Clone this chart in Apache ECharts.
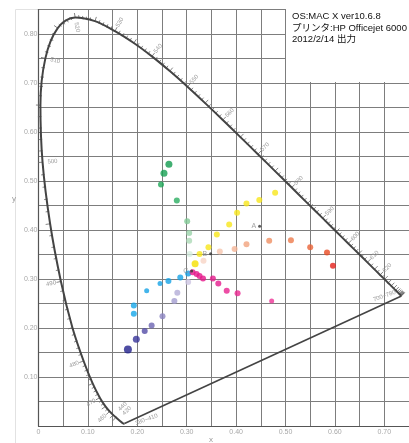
<!DOCTYPE html>
<html><head><meta charset="utf-8">
<script src="https://cdn.jsdelivr.net/npm/echarts@6/dist/echarts.min.js"></script>
<style>html,body{margin:0;padding:0;background:#fff}#c{width:409px;height:443px}</style>
</head><body><div id="c"></div>
<script>
// CIE 1931 spectral locus (5 nm steps)
const locusWl = [380,385,390,395,400,405,410,415,420,425,430,435,440,445,450,455,460,465,470,475,480,485,490,495,500,505,510,515,520,525,530,535,540,545,550,555,560,565,570,575,580,585,590,595,600,605,610,615,620,625,630,635,640,645,650,655,660,665,670,675,680,685,690,695,700];
const locusX = [0.1741,0.1740,0.1738,0.1736,0.1733,0.1730,0.1726,0.1721,0.1714,0.1703,0.1689,0.1669,0.1644,0.1611,0.1566,0.1510,0.1440,0.1355,0.1241,0.1096,0.0913,0.0687,0.0454,0.0235,0.0082,0.0039,0.0139,0.0389,0.0743,0.1142,0.1547,0.1929,0.2296,0.2658,0.3016,0.3373,0.3731,0.4087,0.4441,0.4788,0.5125,0.5448,0.5752,0.6029,0.6270,0.6482,0.6658,0.6801,0.6915,0.7006,0.7079,0.7140,0.7190,0.7230,0.7260,0.7283,0.7300,0.7311,0.7320,0.7327,0.7334,0.7340,0.7344,0.7346,0.7347];
const locusY = [0.0050,0.0050,0.0049,0.0049,0.0048,0.0048,0.0048,0.0048,0.0051,0.0058,0.0069,0.0086,0.0109,0.0138,0.0177,0.0227,0.0297,0.0399,0.0578,0.0868,0.1327,0.2007,0.2950,0.4127,0.5384,0.6548,0.7502,0.8120,0.8338,0.8262,0.8059,0.7816,0.7543,0.7243,0.6923,0.6589,0.6245,0.5896,0.5547,0.5202,0.4866,0.4544,0.4242,0.3965,0.3725,0.3514,0.3340,0.3197,0.3083,0.2993,0.2920,0.2859,0.2809,0.2770,0.2740,0.2717,0.2700,0.2689,0.2680,0.2673,0.2666,0.2660,0.2656,0.2654,0.2653];

// wavelength labels
const labelWl = [460,470,480,490,500,510,520,530,540,550,560,570,580,590,600,610,620];
const labelInside = [500,510,520];

// printed colour patches (x, y)
const greenX = [0.264,0.254,0.248,0.280,0.301,0.305,0.305,0.306];
const greenY = [0.534,0.516,0.493,0.460,0.418,0.394,0.378,0.351];
const yellowX = [0.479,0.447,0.421,0.402,0.386,0.361,0.344,0.326,0.317];
const yellowY = [0.476,0.461,0.454,0.435,0.411,0.391,0.365,0.351,0.331];
const orangeX = [0.334,0.367,0.397,0.421,0.467,0.511,0.550,0.584,0.596];
const orangeY = [0.337,0.356,0.361,0.371,0.378,0.379,0.365,0.354,0.327];
const magentaX = [0.312,0.320,0.326,0.333,0.353,0.364,0.381,0.403,0.472];
const magentaY = [0.314,0.310,0.306,0.301,0.301,0.291,0.276,0.271,0.255];
const cyanX = [0.303,0.287,0.263,0.246,0.219,0.193,0.193];
const cyanY = [0.311,0.303,0.296,0.291,0.276,0.246,0.229];
const purpleX = [0.303,0.281,0.275,0.251,0.229,0.215,0.198,0.181];
const purpleY = [0.294,0.272,0.255,0.224,0.205,0.194,0.177,0.156];

// standard illuminants
const illumNames = ['A','B','C'];
const illumX = [0.4476,0.3484,0.3101];
const illumY = [0.4074,0.3516,0.3162];

const infoLines = ['OS:MAC X ver10.6.8','プリンタ:HP Officejet 6000','2012/2/14 出力'];

// styles
const greenColors = ['#119b4f','#16a052','#1ea757','#2cae61','#82c996','#9ad3aa','#acdab6','#d6ede0'];
const greenSizes = [7,7,6,6,6,6,6,6];
const yellowColors = ['#f8e61a','#f8e61a','#f8e61a','#f8e61a','#f8e61a','#f8e61a','#f8e61a','#f8e61a','#f5e000'];
const yellowSizes = [6,6,6,6,6,6,6,6,7];
const orangeColors = ['#f8d5c6','#f6c5ae','#f4b496','#f1a27d','#ef8f62','#ed7a4b','#ea6337','#e84a22','#e4211a'];
const orangeSizes = [6,6,6,6,6,6,6,6,6];
const magentaColors = ['#e5168a','#e5168a','#e5168a','#e5168a','#e51a8c','#e51a8c','#e8208e','#ea2690','#ee3396'];
const magentaSizes = [6,6,6,6,6,6,6,6,5];
const cyanColors = ['#129de4','#15a2e6','#15a2e6','#15a2e6','#15a2e6','#15a6e8','#15a6e8'];
const cyanSizes = [6,6,6,5,5,6,6];
const purpleColors = ['#cdc6e2','#b3acd7','#a39ccf','#8b83c1','#6c64b2','#524ba6','#38359a','#22218c'];
const purpleSizes = [6,6,6,6,6,6,7,8];

function pts(xs, ys, colors, sizes) {
  return xs.map((x, i) => ({ value: [x, ys[i]], itemStyle: { color: colors[i] }, symbolSize: sizes[i] }));
}

const chart = echarts.init(document.getElementById('c'), null, { renderer: 'canvas' });
const n = locusWl.length;
const locusData = locusWl.map((w, i) => [locusX[i], locusY[i], i]);

function fmt(v, showZero) {
  const k = Math.round(v * 100);
  if (k === 0) return showZero ? '0' : '';
  if (k % 10) return '';
  return v.toFixed(2);
}

function normalAt(api, i) {
  const a = api.coord([locusX[Math.max(0, i - 1)], locusY[Math.max(0, i - 1)]]);
  const b = api.coord([locusX[Math.min(n - 1, i + 1)], locusY[Math.min(n - 1, i + 1)]]);
  let dx = b[0] - a[0], dy = b[1] - a[1];
  const L = Math.hypot(dx, dy) || 1;
  dx /= L; dy /= L;
  return [dy, -dx]; // outward
}

const axisLabelStyle = { color: '#a8a8a8', fontSize: 7, fontFamily: 'Liberation Sans, Arial, sans-serif' };

chart.setOption({
  animation: false,
  backgroundColor: '#fff',
  grid: { left: 38.5, right: 0, top: 9.5, bottom: 17, containLabel: false },
  xAxis: {
    type: 'value', min: 0, max: 0.75, interval: 0.05,
    axisLine: { show: true, lineStyle: { color: '#555', width: 1.2 } },
    axisTick: { show: false },
    splitLine: { show: true, lineStyle: { color: '#7d7d7d', width: 1 } },
    axisLabel: Object.assign({ margin: 3, formatter: v => fmt(v, true), showMaxLabel: false }, axisLabelStyle)
  },
  yAxis: {
    type: 'value', min: 0, max: 0.85, interval: 0.05,
    axisLine: { show: true, lineStyle: { color: '#555', width: 1.2 } },
    axisTick: { show: false },
    splitLine: { show: true, lineStyle: { color: '#7d7d7d', width: 1 } },
    axisLabel: Object.assign({ margin: 1, formatter: v => fmt(v, false), showMaxLabel: false }, axisLabelStyle)
  },
  graphic: [
    { type: 'rect', left: 13, top: 7, shape: { width: 400, height: 434 }, style: { fill: 'none', stroke: '#e2e2e2', lineWidth: 1 }, z: -10, silent: true },
    { type: 'rect', left: 286, top: 0, shape: { width: 123, height: 82 }, style: { fill: '#fff' }, z: 100, silent: true },
    { type: 'text', left: 292, top: 11, z: 101, style: { text: infoLines.join('\n'), fill: '#111', fontSize: 9.5, lineHeight: 11.5, fontFamily: 'Liberation Sans, Noto Sans CJK JP, sans-serif' } },
    { type: 'text', left: 12, top: 195, z: 101, style: { text: 'y', fill: '#999', fontSize: 8, fontFamily: 'Liberation Sans, sans-serif' } },
    { type: 'text', left: 209, top: 436, z: 101, style: { text: 'x', fill: '#999', fontSize: 8, fontFamily: 'Liberation Sans, sans-serif' } }
  ],
  series: [
    {
      type: 'line', data: locusData, showSymbol: false, smooth: 0.35, z: 3,
      lineStyle: { color: '#444', width: 2 }, silent: true
    },
    {
      type: 'line', data: [[locusX[0], locusY[0]], [locusX[n - 1], locusY[n - 1]]], showSymbol: false, z: 3,
      lineStyle: { color: '#444', width: 1.6 }, silent: true
    },
    {
      type: 'custom', data: locusData, encode: { x: 0, y: 1 }, z: 3, silent: true,
      renderItem: function (params, api) {
        const i = api.value(2);
        if (i >= n - 1 || locusWl[i] < 450 ) return null;
        const p0 = api.coord([locusX[i], locusY[i]]);
        const p1 = api.coord([locusX[i + 1], locusY[i + 1]]);
        const nv = normalAt(api, i);
        const children = [];
        const steps = Math.max(1, Math.min(5, Math.round(Math.hypot(p1[0] - p0[0], p1[1] - p0[1]) / 4)));
        for (let s = 0; s < steps; s++) {
          const t = s / steps;
          const px = p0[0] + (p1[0] - p0[0]) * t, py = p0[1] + (p1[1] - p0[1]) * t;
          const len = s === 0 ? 4.5 : 3;
          children.push({ type: 'line', shape: { x1: px - nv[0] * 0.5, y1: py - nv[1] * 0.5, x2: px + nv[0] * len, y2: py + nv[1] * len }, style: { stroke: '#666', lineWidth: 0.8 } });
        }
        return { type: 'group', children: children };
      }
    },
    {
      type: 'custom', data: labelWl.map(w => { const i = locusWl.indexOf(w); return [locusX[i], locusY[i], i]; }),
      encode: { x: 0, y: 1 }, z: 3, silent: true,
      renderItem: function (params, api) {
        const i = api.value(2);
        const w = locusWl[i];
        const p = api.coord([locusX[i], locusY[i]]);
        const nv = normalAt(api, i);
        const side = labelInside.indexOf(w) >= 0 ? -1 : 1;
        const off = 10;
        let ax = nv[0], ay = nv[1];
        if (ax < 0) { ax = -ax; ay = -ay; }
        const rot = -Math.atan2(ay, ax);
        return {
          type: 'text', x: p[0] + nv[0] * off * side, y: p[1] + nv[1] * off * side, rotation: rot,
          style: { text: String(w), fill: '#9a9a9a', fontSize: 6, align: 'center', verticalAlign: 'middle', fontFamily: 'Liberation Sans, sans-serif' }
        };
      }
    },
    {
      type: 'custom', data: [[locusX[n - 1], locusY[n - 1]], [locusX[0], locusY[0]], [locusX[12], locusY[12]]],
      encode: { x: 0, y: 1 }, z: 3, silent: true,
      renderItem: function (params, api) {
        const p = api.coord([api.value(0), api.value(1)]);
        const texts = ['700~780', '380~410', '440\n420'];
        const dx = [-17, 22, 5], dy = [0, -4, -12];
        const rots = [0.35, 0.35, 0.8];
        return { type: 'text', x: p[0] + dx[params.dataIndex], y: p[1] + dy[params.dataIndex], rotation: rots[params.dataIndex],
          style: { text: texts[params.dataIndex], fill: '#9a9a9a', fontSize: 6, align: 'center', verticalAlign: 'middle', lineHeight: 6, fontFamily: 'Liberation Sans, sans-serif' } };
      }
    },
    { type: 'scatter', data: pts(greenX, greenY, greenColors, greenSizes), z: 5 },
    { type: 'scatter', data: pts(yellowX, yellowY, yellowColors, yellowSizes), z: 5 },
    { type: 'scatter', data: pts(orangeX, orangeY, orangeColors, orangeSizes), z: 5 },
    { type: 'scatter', data: pts(purpleX, purpleY, purpleColors, purpleSizes), z: 5 },
    { type: 'scatter', data: pts(cyanX, cyanY, cyanColors, cyanSizes), z: 6 },
    { type: 'scatter', data: pts(magentaX, magentaY, magentaColors, magentaSizes), z: 6 },
    {
      type: 'scatter', data: illumX.map((x, i) => ({ value: [x, illumY[i]], name: illumNames[i] })),
      symbolSize: 3, itemStyle: { color: '#333' }, z: 7,
      label: { show: true, formatter: p => p.name, position: 'left', distance: 2, color: '#888', fontSize: 7, fontFamily: 'Liberation Sans, sans-serif' }
    }
  ]
});
</script></body></html>
